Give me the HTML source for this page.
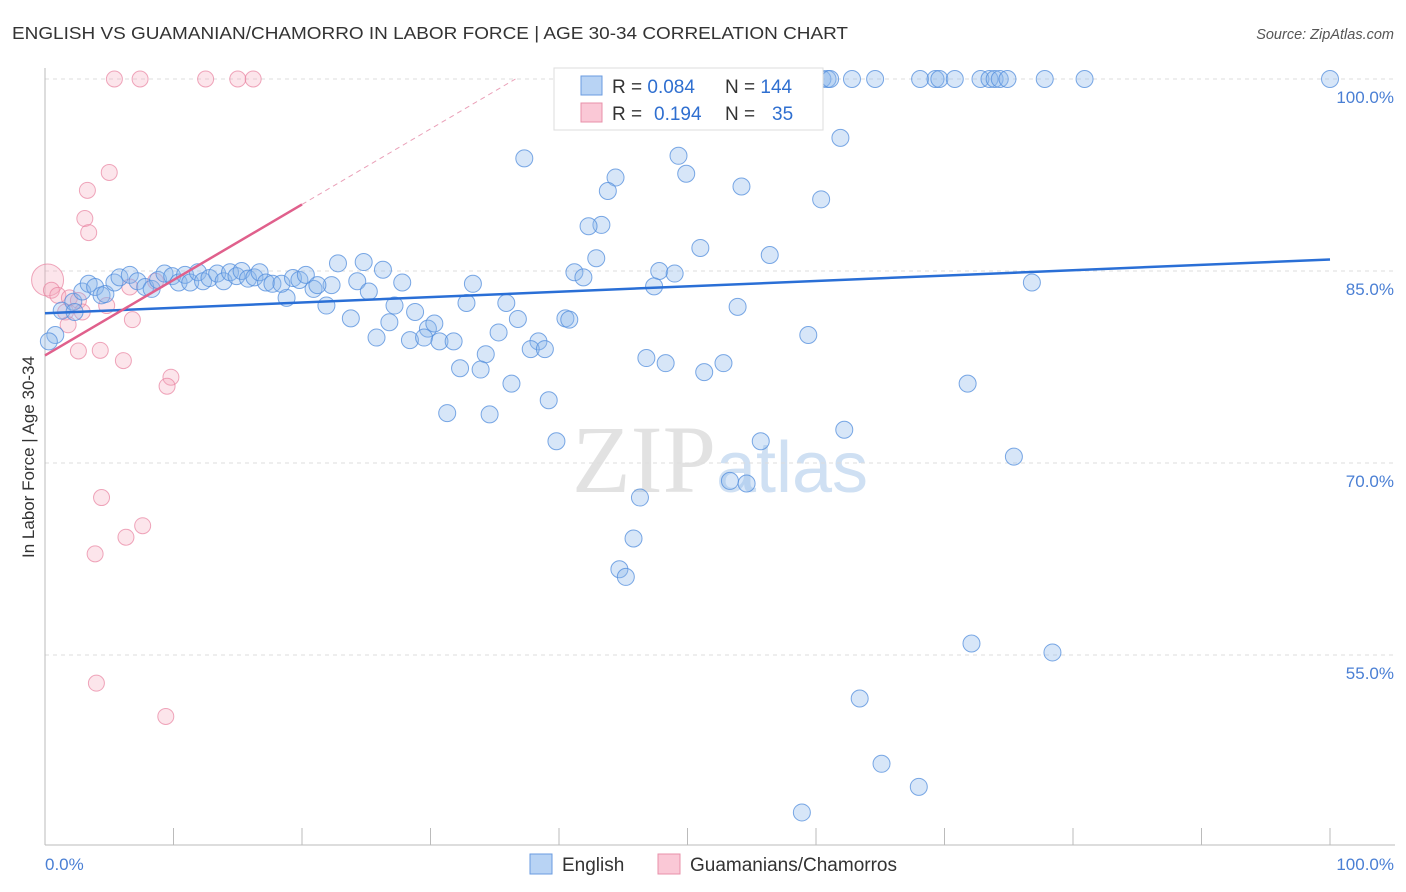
<!DOCTYPE html>
<html><head><meta charset="utf-8"><style>
body{margin:0;background:#fff;font-family:"Liberation Sans",sans-serif;}
svg{display:block}
</style></head><body>
<svg id="chart" width="1406" height="892">
<text x="12" y="39" font-size="17.5" fill="#333" textLength="836" lengthAdjust="spacingAndGlyphs">ENGLISH VS GUAMANIAN/CHAMORRO IN LABOR FORCE | AGE 30-34 CORRELATION CHART</text>
<text x="1394" y="39" font-size="14.5" fill="#555" font-style="italic" text-anchor="end">Source: ZipAtlas.com</text>
<text x="720" y="492" font-size="96" fill="#e2e2e2" text-anchor="middle" font-family="Liberation Serif,serif">ZIP<tspan fill="#cfe0f3" font-family="Liberation Sans,sans-serif" font-size="72">atlas</tspan></text>
<g id="grid"></g>
<g id="axes"></g>
<g id="pts"></g>
<g id="trend"></g>
<text transform="translate(34,457) rotate(-90)" font-size="17" fill="#333" text-anchor="middle">In Labor Force | Age 30-34</text>
<text x="45" y="870" font-size="17" fill="#4a7fd4">0.0%</text>
<text x="1394" y="870" font-size="17" fill="#4a7fd4" text-anchor="end">100.0%</text>
<g>
<rect x="554" y="68" width="269" height="62" fill="#fff" stroke="#ddd"/>
<rect x="581" y="76" width="21" height="19" fill="#b8d3f4" stroke="#6a9be0"/>
<rect x="581" y="103" width="21" height="19" fill="#fac8d6" stroke="#e890aa"/>
<text x="612" y="93" font-size="19" fill="#333">R = <tspan fill="#2f6fd0">0.084</tspan><tspan x="725">N = </tspan><tspan fill="#2f6fd0">144</tspan></text>
<text x="612" y="120" font-size="19" fill="#333">R = <tspan x="654" fill="#2f6fd0">0.194</tspan><tspan x="725">N = </tspan><tspan x="772" fill="#2f6fd0">35</tspan></text>
</g>
<g><rect x="530" y="854" width="22" height="20" fill="#b8d3f4" stroke="#6a9be0"/><text x="562" y="871" font-size="19" fill="#333">English</text></g>
<g><rect x="658" y="854" width="22" height="20" fill="#fac8d6" stroke="#e890aa"/><text x="690" y="871" font-size="19" fill="#333">Guamanians/Chamorros</text></g>
</svg>
<script>
const yTicks=[100,85,70,55];
const yTickLabels=["100.0%","85.0%","70.0%","55.0%"];
const xTicks=[0,10,20,30,40,50,60,70,80,90,100];
const blueX=[51.8,52.1,55.4,58.8,60.5,60.9,61.1,62.8,64.6,68.1,69.3,69.6,70.8,72.8,73.5,73.9,74.3,74.9,77.8,80.9,100,
61.9,37.3,49.3,44.4,49.9,43.8,54.2,60.4,43.3,42.3,51.0,56.4,42.9,22.8,24.8,26.3,41.2,41.9,47.8,49.0,33.3,47.4,76.8,27.8,24.3,22.3,25.2,20.9,18.8,21.9,32.8,35.9,27.2,53.9,23.8,26.8,28.8,36.8,40.5,40.8,29.8,30.3,35.3,59.4,25.8,28.4,29.5,30.7,31.8,38.4,37.8,38.9,34.3,46.8,48.3,52.8,32.3,33.9,51.3,36.3,71.8,39.2,31.3,34.6,62.2,39.8,55.7,75.4,53.3,54.6,46.3,45.8,44.7,45.2,72.1,78.4,63.4,65.1,68.0,58.9,
0.8,1.3,2.2,2.3,2.9,3.4,3.9,4.4,4.7,5.4,5.8,6.6,7.2,7.8,8.3,8.8,9.3,9.9,10.4,10.9,11.3,11.9,12.3,12.8,13.4,13.9,14.4,14.9,15.3,15.8,16.3,16.7,17.2,17.7,18.4,19.3,19.8,20.3,21.2,0.3];
const blueY=[100,100,100,100,100,100,100,100,100,100,100,100,100,100,100,100,100,100,100,100,100,
95.4,93.8,94.0,92.3,92.6,91.25,91.6,90.6,88.6,88.5,86.8,86.25,86.0,85.6,85.7,85.1,84.9,84.5,85.0,84.8,84.0,83.8,84.1,84.1,84.2,83.9,83.4,83.6,82.9,82.3,82.5,82.5,82.3,82.2,81.3,81.0,81.8,81.25,81.3,81.2,80.5,80.9,80.2,80.0,79.8,79.6,79.8,79.5,79.5,79.5,78.9,78.9,78.5,78.2,77.8,77.8,77.4,77.3,77.1,76.2,76.2,74.9,73.9,73.8,72.6,71.7,71.7,70.5,68.6,68.4,67.3,64.1,61.7,61.1,55.9,55.2,51.6,46.5,44.7,42.7,
80.0,81.9,82.6,81.8,83.4,84.0,83.75,83.1,83.2,84.1,84.5,84.7,84.2,83.75,83.6,84.3,84.8,84.6,84.1,84.7,84.1,84.9,84.2,84.45,84.8,84.2,84.9,84.6,85.0,84.4,84.5,84.9,84.1,84.0,84.0,84.45,84.3,84.7,83.9,79.5];
const pinkX=[5.4,7.4,12.5,15.0,16.2,5.0,3.3,3.1,3.4,0.2,0.5,1.0,1.9,1.6,2.6,1.8,2.9,4.8,6.6,8.6,6.8,2.6,4.3,6.1,9.8,9.5,4.4,6.3,7.6,3.9,4.0,9.4];
const pinkY=[100,100,100,100,100,92.7,91.3,89.1,88.0,84.3,83.5,83.1,82.9,81.8,82.7,80.8,81.8,82.3,83.75,84.2,81.2,78.75,78.8,78.0,76.7,76.0,67.3,64.2,65.1,62.9,52.8,50.2];
const blueTrend=[81.7,85.9];
const pinkTrend=[78.4,90.2];
const NS="http://www.w3.org/2000/svg";
const X=v=>45+v*12.85, Y=v=>79+(100-v)*12.8;
function mk(t,a,p){const e=document.createElementNS(NS,t);for(const k in a)e.setAttribute(k,a[k]);document.getElementById(p).appendChild(e);return e;}
yTicks.forEach((t,i)=>{
 const l=mk('line',{x1:45,x2:1395,y1:Y(t),y2:Y(t),stroke:'#ddd','stroke-dasharray':'4,4'},'grid');
 
 
 const tx=mk('text',{x:1394,y:Y(t)+24,'font-size':17,fill:'#4a7fd4','text-anchor':'end'},'grid');
 tx.textContent=yTickLabels[i];
 
 
});
const ax=mk('line',{x1:45,x2:45,y1:68,y2:845,stroke:'#bbb'},'axes');


const bx=mk('line',{x1:45,x2:1395,y1:845,y2:845,stroke:'#bbb'},'axes');


xTicks.forEach(t=>{
 const l=mk('line',{x1:X(t),x2:X(t),y1:828,y2:845,stroke:'#bbb'},'axes');
 
 
});
pinkX.forEach((x,i)=>{
 const c=mk('circle',{cx:X(x),cy:Y(pinkY[i]),r:(i==9?16:8),fill:'rgba(246,168,190,0.3)',stroke:'rgba(232,130,160,0.7)','stroke-width':1},'pts');
 
 
});
blueX.forEach((x,i)=>{
 const c=mk('circle',{cx:X(x),cy:Y(blueY[i]),r:8.5,fill:'rgba(140,182,236,0.35)',stroke:'rgba(80,140,220,0.75)','stroke-width':1},'pts');
 
 
});
const bt=mk('line',{x1:X(0),y1:Y(blueTrend[0]),x2:X(100),y2:Y(blueTrend[1]),stroke:'#2a6fd6','stroke-width':2.5},'trend');


const pt=mk('line',{x1:X(0),y1:Y(pinkTrend[0]),x2:X(20),y2:Y(pinkTrend[1]),stroke:'#e0608c','stroke-width':2.5},'trend');


const slope=(pinkTrend[1]-pinkTrend[0])/20, xe=(100-pinkTrend[0])/slope;
const pd=mk('line',{x1:X(20),y1:Y(pinkTrend[1]),x2:X(xe),y2:Y(100),stroke:'#eaa0b8','stroke-width':1,'stroke-dasharray':'5,4'},'trend');


</script>
</body></html>
